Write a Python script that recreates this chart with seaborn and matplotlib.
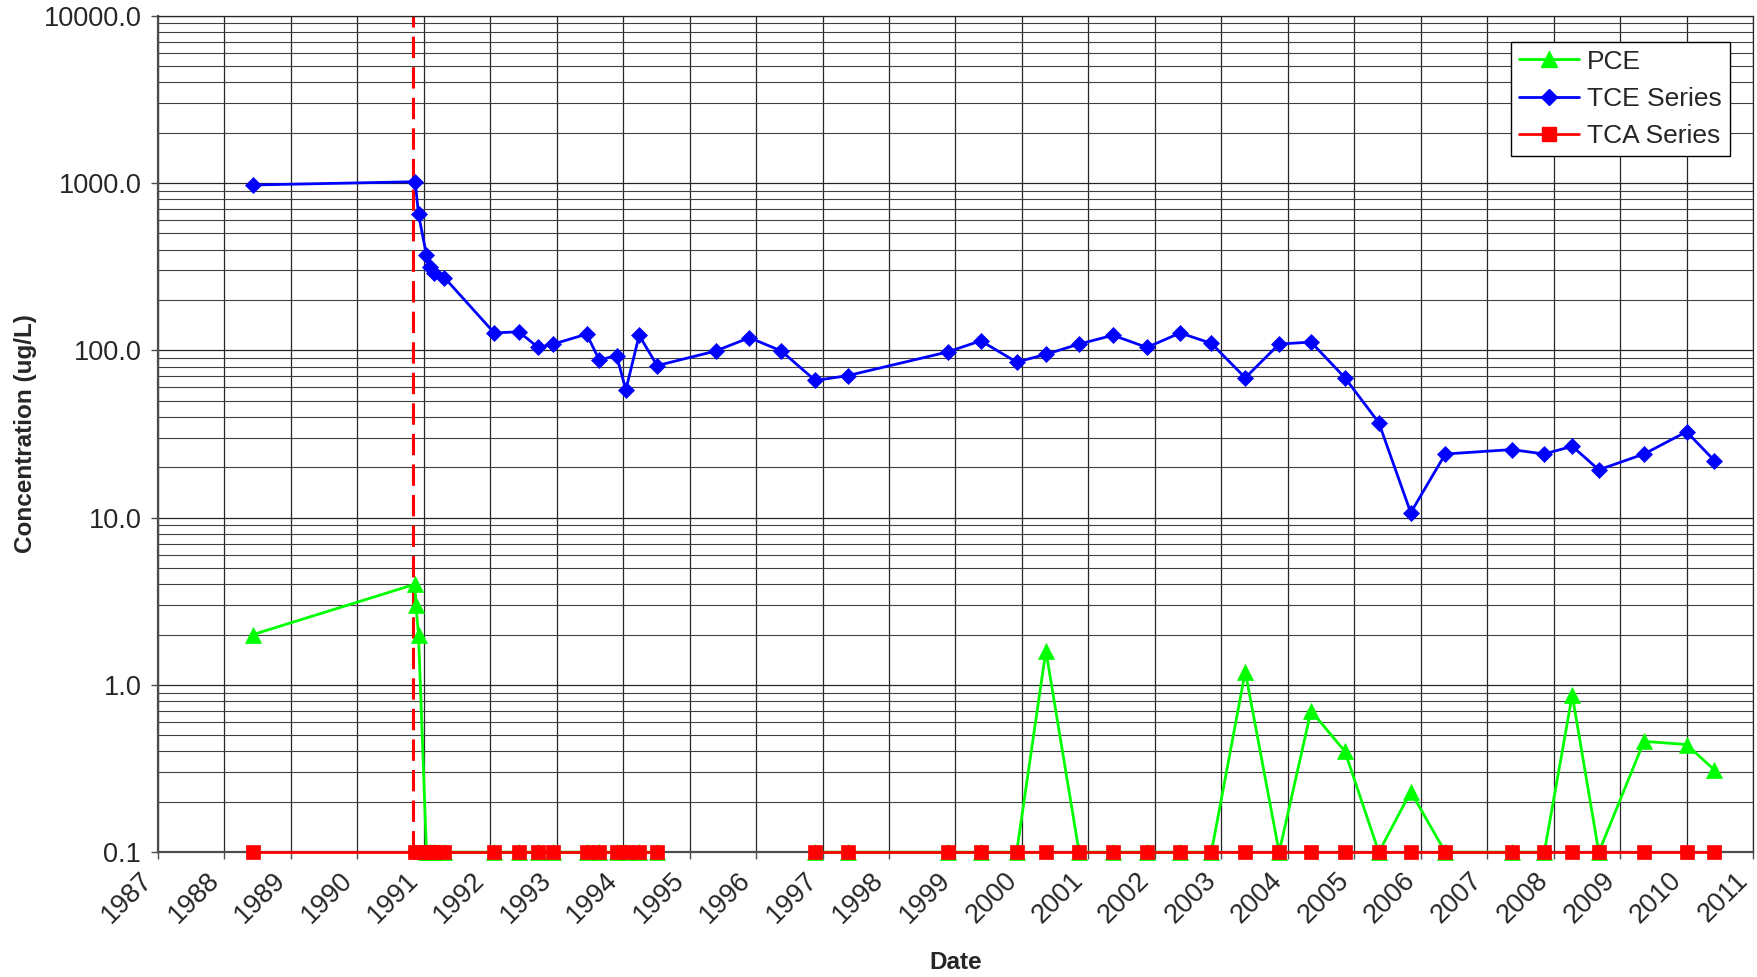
import numpy as np
import pandas as pd
import matplotlib
matplotlib.use("Agg")
import matplotlib.pyplot as plt
from matplotlib.lines import Line2D
from matplotlib.ticker import FixedLocator, LogLocator, NullFormatter
import seaborn as sns

# sample dates (decimal years) and concentrations
tce_year = [1988.43, 1990.87, 1990.92, 1991.04, 1991.09, 1991.15, 1991.31,
            1992.06, 1992.43, 1992.72, 1992.95, 1993.45, 1993.64, 1993.90,
            1994.04, 1994.24, 1994.51, 1995.39, 1995.90, 1996.38, 1996.89,
            1997.38, 1998.88, 1999.38, 1999.92, 2000.36, 2000.86, 2001.37,
            2001.88, 2002.38, 2002.85, 2003.36, 2003.87, 2004.35, 2004.86,
            2005.37, 2005.85, 2006.37, 2007.37, 2007.86, 2008.28, 2008.68,
            2009.36, 2010.00, 2010.42]
tce_val = [973, 1018, 650, 370, 316, 291, 272,
           127, 129, 104, 109, 125, 87.5, 93,
           58, 123, 81, 99, 119, 99, 66,
           70.6, 97.7, 114, 85, 94.6, 109, 123,
           104, 127, 110, 68.5, 109, 112, 68.5,
           36.9, 10.7, 24.0, 25.5, 24.0, 26.7, 19.3,
           24.0, 32.6, 21.9]

# blank cells (no sample) leave gaps in the line
tca_year = tce_year
tca_val = [0.1] * 17 + [np.nan, np.nan, np.nan] + [0.1] * 25

pce_year = [1988.43, 1990.87, 1990.88, 1990.92, 1991.04, 1991.09, 1991.15,
            1991.31, 1992.06, 1992.43, 1992.72, 1992.95, 1993.45, 1993.64,
            1993.90, 1994.04, 1994.24, 1994.51, 1995.39, 1995.90, 1996.38,
            1996.89, 1997.38, 1998.88, 1999.38, 1999.92, 2000.36, 2000.86,
            2001.37, 2001.88, 2002.38, 2002.85, 2003.36, 2003.87, 2004.35,
            2004.86, 2005.37, 2005.85, 2006.37, 2007.37, 2007.86, 2008.28,
            2008.68, 2009.36, 2010.00, 2010.42]
pce_val = [2.0, 4.0, 3.0, 2.0, 0.1, 0.1, 0.1,
           0.1, 0.1, 0.1, 0.1, 0.1, 0.1, 0.1,
           0.1, 0.1, 0.1, 0.1, np.nan, np.nan, np.nan,
           0.1, 0.1, 0.1, 0.1, 0.1, 1.6, 0.1,
           0.1, 0.1, 0.1, 0.1, 1.2, 0.1, 0.7,
           0.4, 0.1, 0.23, 0.1, 0.1, 0.1, 0.87,
           0.1, 0.46, 0.44, 0.31]

event_year = 1990.84
years = list(range(1987, 2012))
ytick_vals = [0.1, 1, 10, 100, 1000, 10000]
ytick_labels = ['0.1', '1.0', '10.0', '100.0', '1000.0', '10000.0']


def segments(x, y):
    df = pd.DataFrame({'year': x, 'val': y})
    df['seg'] = df['val'].isna().cumsum()
    return df.dropna()


sns.set_style('white')
plt.rcParams['font.family'] = ['Liberation Sans', 'DejaVu Sans']

fig = plt.figure(figsize=(17.58, 9.77), dpi=100)
ax = fig.add_axes([158 / 1758, 1 - 852.2 / 977, 1595 / 1758, 836.5 / 977])

ax.set_yscale('log')
ax.set_xlim(1987, 2011)
ax.set_ylim(0.1, 10000)

# grid
ax.yaxis.set_major_locator(FixedLocator(ytick_vals))
ax.set_yticklabels(ytick_labels)
ax.yaxis.set_minor_locator(LogLocator(base=10, subs=np.arange(2, 10)))
ax.yaxis.set_minor_formatter(NullFormatter())
ax.set_xticks(years)
ax.set_xticklabels([str(y) for y in years], rotation=45, ha='right', va='top')
ax.grid(which='major', axis='both', color='0.15', lw=0.9)
ax.grid(which='minor', axis='y', color='0.25', lw=0.8)
ax.set_axisbelow(True)

ax.axvline(event_year, color='#FF0000', lw=2.2, ls=(0, (7, 3)), zorder=1.5)

sns.lineplot(data=segments(pce_year, pce_val), x='year', y='val', units='seg',
             estimator=None, sort=False, color='#00FF00', lw=2.0, marker='^',
             markersize=11, markeredgecolor='#00FF00', markeredgewidth=0.5,
             legend=False, clip_on=False, ax=ax, zorder=3)
sns.lineplot(data=segments(tce_year, tce_val), x='year', y='val', units='seg',
             estimator=None, sort=False, color='#0000FF', lw=2.0, marker='D',
             markersize=8, markeredgecolor='#0000FF', markeredgewidth=0.5,
             legend=False, clip_on=False, ax=ax, zorder=4)
sns.lineplot(data=segments(tca_year, tca_val), x='year', y='val', units='seg',
             estimator=None, sort=False, color='#FF0000', lw=2.0, marker='s',
             markersize=10, markeredgecolor='#FF0000', markeredgewidth=0.5,
             legend=False, clip_on=False, ax=ax, zorder=5)

ax.tick_params(axis='both', which='major', direction='out', length=5, width=1,
               color='0.3', labelsize=19.5, bottom=True, left=True)
ax.tick_params(axis='y', which='major', pad=7)
ax.tick_params(axis='x', which='major', pad=6)
ax.tick_params(axis='y', which='minor', length=0)

for side in ['left', 'bottom']:
    ax.spines[side].set_color('0.3')
    ax.spines[side].set_linewidth(1.6)
for side in ['top', 'right']:
    ax.spines[side].set_color('0.15')
    ax.spines[side].set_linewidth(0.9)

ax.set_xlabel('Date', fontsize=17.5, fontweight='bold')
ax.set_ylabel('Concentration (ug/L)', fontsize=17.5, fontweight='bold')
ax.xaxis.set_label_coords(0.5, -0.118)
ax.yaxis.set_label_coords(-0.076, 0.5)

handles = [
    Line2D([], [], color='#00FF00', lw=2, marker='^', markersize=11,
           markeredgecolor='#00FF00'),
    Line2D([], [], color='#0000FF', lw=2, marker='D', markersize=8,
           markeredgecolor='#0000FF'),
    Line2D([], [], color='#FF0000', lw=2, marker='s', markersize=10,
           markeredgecolor='#FF0000'),
]
leg = ax.legend(handles, ['PCE', 'TCE Series', 'TCA Series'],
                loc='upper right', bbox_to_anchor=(0.9856, 0.969),
                fontsize=19, frameon=True, fancybox=False, framealpha=1,
                edgecolor='black', borderaxespad=0, borderpad=0.3,
                labelspacing=0.5, handlelength=2.3, handletextpad=0.3)
leg.get_frame().set_linewidth(1.0)
leg.set_zorder(10)

fig.savefig('out.png', dpi=100)
